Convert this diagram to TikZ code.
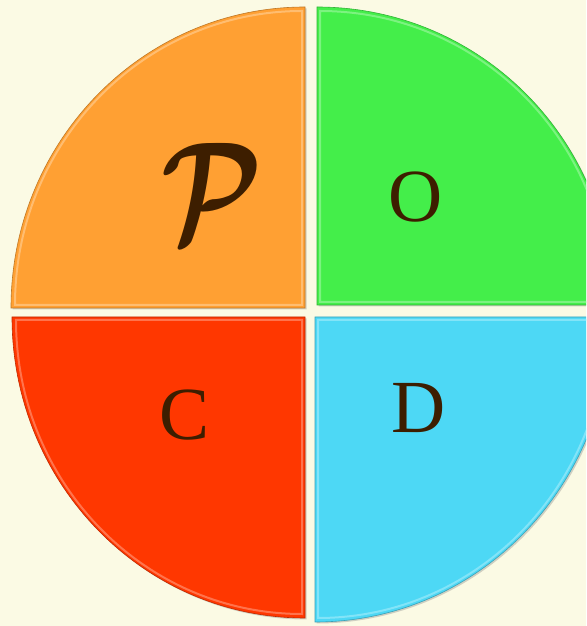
\documentclass[tikz,border=0pt]{standalone}
\usepackage{amsmath}
\usepackage{fontspec}
\setmainfont{Liberation Serif}
\usetikzlibrary{shadows}
\definecolor{cream}{HTML}{FBFAE4}
\definecolor{porange}{HTML}{FFA033}
\definecolor{ogreen}{HTML}{44EE4A}
\definecolor{cred}{HTML}{FF3700}
\definecolor{dblue}{HTML}{4DD8F5}
\definecolor{letterbrown}{HTML}{3D1E00}
\tikzset{
  quarter/.style={fill=#1, draw=#1!75!black, line width=0.6pt,
    drop shadow={shadow xshift=1.5pt, shadow yshift=-1.5pt, opacity=0.35}},
  bevel/.style={draw=#1!70!white, line width=2pt},
  letter/.style={text=letterbrown, inner sep=0pt, font=\fontsize{75}{75}\selectfont}
}
\begin{document}
\begin{tikzpicture}[x=1pt, y=1pt]
	\fill[cream] (0,0) rectangle (586,626);
	\useasboundingbox (0,0) rectangle (586,626);
	\begin{scope}
	\clip (0,0) rectangle (586,626);
	% planning
	\path[quarter=porange] (305,318) -- (11,318) arc[start angle=180, end angle=90, x radius=294, y radius=301] -- cycle;
	\draw[bevel=porange] (302,321) -- (15,321) arc[start angle=180, end angle=90, x radius=287, y radius=294] -- cycle;
	% organizing
	\path[quarter=ogreen] (317,321) -- (317,619) arc[start angle=90, end angle=0, x radius=296, y radius=298] -- cycle;
	\draw[bevel=ogreen] (320,324) -- (320,615) arc[start angle=90, end angle=0, x radius=289, y radius=291] -- cycle;
	% controlling
	\path[quarter=cred] (305,309) -- (12,309) arc[start angle=180, end angle=270, x radius=293, y radius=301] -- cycle;
	\draw[bevel=cred] (302,306) -- (16,306) arc[start angle=180, end angle=270, x radius=286, y radius=294] -- cycle;
	% directing
	\path[quarter=dblue] (315,309) -- (315,4) arc[start angle=270, end angle=360, x radius=296, y radius=305] -- cycle;
	\draw[bevel=dblue] (318,306) -- (318,8) arc[start angle=270, end angle=360, x radius=289, y radius=298] -- cycle;
	\end{scope}
	\node[letter, font=\fontsize{10}{12}\selectfont] (plan) at (212,434) {\scalebox{11.3}[14.3]{$\boldsymbol{\mathcal{P}}$}};
	\node[letter] (org) at (416,429) {O};
	\node[letter] (ctrl) at (185,211) {C};
	\node[letter] (dir) at (419,218) {D};
\end{tikzpicture}
\end{document}
